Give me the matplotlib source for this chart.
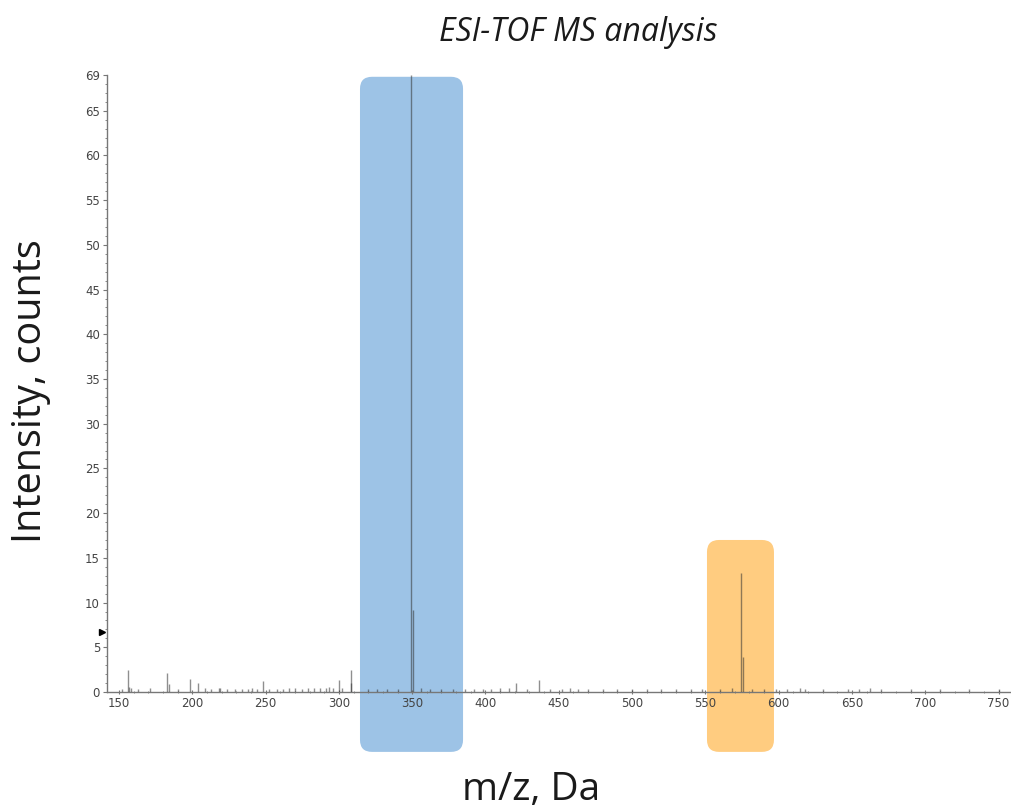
import numpy as np
import matplotlib
matplotlib.use('Agg')
import matplotlib.pyplot as plt
from matplotlib.patches import FancyBboxPatch
from matplotlib.ticker import MultipleLocator

# Peak list (m/z, intensity in counts)
PEAK_MZ = [
    152, 156, 157, 158.5, 163, 171, 182.5, 184, 190, 198.5, 204, 209, 213,
    218, 219, 224, 229, 234, 238, 241, 244, 248, 252, 258, 262, 266, 270,
    275, 279, 283, 287, 291, 293, 296, 300, 302, 308, 308.5,
    320, 326, 333, 340, 349.5, 350.5, 356, 362, 370, 378,
    386, 392, 398, 404, 410, 416, 421, 428, 436.5, 444, 452, 458, 463,
    470, 480, 490, 500, 510, 520, 530, 540, 548, 560, 568, 574.5, 575.5,
    582, 590, 598, 606, 614.5, 618, 630, 647, 655, 662, 670, 690, 710,
    730, 750,
]
PEAK_INT = [
    0.3, 2.5, 0.6, 0.4, 0.3, 0.4, 2.1, 0.9, 0.3, 1.45, 1.0, 0.4, 0.3,
    0.5, 0.4, 0.3, 0.3, 0.3, 0.3, 0.4, 0.3, 1.2, 0.3, 0.3, 0.3, 0.4, 0.5,
    0.3, 0.4, 0.4, 0.4, 0.5, 0.6, 0.5, 1.3, 0.5, 2.5, 1.0,
    0.3, 0.3, 0.3, 0.3, 69.0, 9.2, 0.4, 0.3, 0.3, 0.3,
    0.3, 0.3, 0.3, 0.3, 0.4, 0.4, 1.0, 0.3, 1.3, 0.3, 0.3, 0.4, 0.3,
    0.3, 0.3, 0.3, 0.3, 0.3, 0.3, 0.3, 0.3, 0.3, 0.3, 0.5, 13.3, 3.9,
    0.3, 0.3, 0.3, 0.3, 0.4, 0.3, 0.3, 0.3, 0.3, 0.4, 0.3, 0.3, 0.3,
    0.3, 0.3,
]

X_TICKS = [150, 200, 250, 300, 350, 400, 450, 500, 550, 600, 650, 700, 750]
Y_TICKS = [0, 5, 10, 15, 20, 25, 30, 35, 40, 45, 50, 55, 60, 65, 69]

# Highlight regions: (x0, x1, y0, y1) in data units, colour
HIGHLIGHTS = [
    ((314.4, 384.7, -6.7, 68.8), "#9dc3e6"),
    ((551.1, 596.8, -6.7, 17.0), "#ffcc80"),
]

XLIM = (141.8, 757.8)
YLIM = (0, 69)


def main():
    fig = plt.figure(figsize=(10.11, 8.10), dpi=100)
    ax = fig.add_axes([0.1058, 0.1457, 0.8932, 0.7617])
    ax.set_xlim(*XLIM)
    ax.set_ylim(*YLIM)

    # Highlight boxes (extend below the axis, so no clipping)
    px_x = (XLIM[1] - XLIM[0]) / (0.8932 * 1011)
    px_y = (YLIM[1] - YLIM[0]) / (0.7617 * 810)
    for (x0, x1, y0, y1), col in HIGHLIGHTS:
        box = FancyBboxPatch((x0, y0), x1 - x0, y1 - y0,
                             boxstyle=f"round,pad=0,rounding_size={12 * px_x}",
                             mutation_aspect=px_y / px_x,
                             facecolor=col, edgecolor="none",
                             clip_on=False, zorder=1)
        ax.add_patch(box)

    # Spectrum sticks
    ax.vlines(PEAK_MZ, 0, PEAK_INT, color="#333333", linewidth=1.0, alpha=0.55, zorder=3)

    # Axis styling
    for side in ["top", "right"]:
        ax.spines[side].set_visible(False)
    for side in ["left", "bottom"]:
        ax.spines[side].set_color("#777777")
        ax.spines[side].set_linewidth(1.0)
        ax.spines[side].set_zorder(2)

    ax.set_xticks(X_TICKS)
    ax.set_yticks(Y_TICKS)
    ax.xaxis.set_minor_locator(MultipleLocator(10))
    ax.yaxis.set_minor_locator(MultipleLocator(1))
    ax.tick_params(axis="both", which="major", labelsize=8.5, labelcolor="#444444",
                   color="#777777", length=3, width=0.8, pad=2)
    ax.tick_params(axis="both", which="minor", color="#777777", length=1.5, width=0.6)
    ax.tick_params(axis="x", which="both", direction="inout")

    # Small marker on the y axis
    ax.plot([XLIM[0] - 3.5], [6.7], marker=">", color="black", markersize=5,
            clip_on=False, zorder=4)

    fig.text(0.572, 0.960, "ESI-TOF MS analysis", fontsize=23, fontstyle="italic",
             family="Open Sans", color="#1a1a1a", ha="center", va="center")
    fig.text(0.030, 0.517, "Intensity, counts", fontsize=28.5, family="Open Sans",
             color="#1a1a1a", rotation=90, ha="center", va="center")
    fig.text(0.525, 0.025, "m/z, Da", fontsize=28, family="Open Sans",
             color="#1a1a1a", ha="center", va="center")

    fig.savefig("out.png", dpi=100)
    plt.close(fig)


if __name__ == "__main__":
    main()
